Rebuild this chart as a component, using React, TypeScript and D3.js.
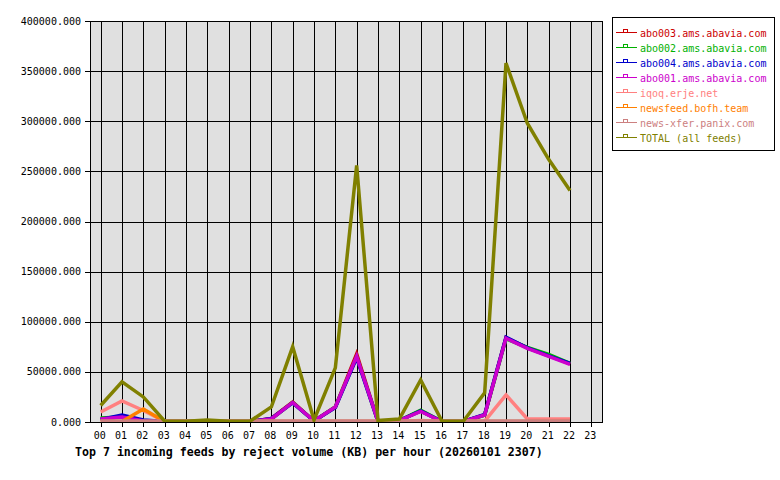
import React from "react";
import * as d3 from "d3";

const hours = ["00","01","02","03","04","05","06","07","08","09","10","11","12","13","14","15","16","17","18","19","20","21","22","23"];
const yTicks = [0, 50000, 100000, 150000, 200000, 250000, 300000, 350000, 400000];

const abo003 = [3000, 5500, 1500, 500, 500, 800, 500, 500, 3500, 20000, 1000, 15000, 68000, 500, 1500, 11000, 500, 500, 7000, 84000, 74000, 66500, 58000];
const abo002 = [4000, 5000, 1200, 500, 500, 800, 500, 500, 3000, 19500, 1000, 15000, 65000, 500, 1500, 11800, 500, 500, 7000, 83000, 74500, 67500, 58500];
const abo004 = [2500, 7000, 2000, 500, 500, 800, 500, 500, 3500, 19000, 1000, 14500, 64000, 500, 1500, 11000, 500, 500, 7500, 84500, 74000, 66000, 58500];
const abo001 = [3000, 5000, 1000, 500, 500, 800, 500, 500, 3000, 19500, 1000, 15000, 65500, 500, 1500, 10500, 500, 500, 7000, 83500, 73500, 65500, 57500];
const iqoq = [10000, 21000, 11500, 500, 500, 500, 500, 500, 500, 500, 500, 500, 500, 500, 500, 1500, 500, 500, 800, 27000, 3000, 3000, 3000];
const newsfeed = [500, 500, 13000, 500, 500, 500, 500, 500, 500, 500, 500, 500, 500, 500, 500, 500, 500, 500, 500, 500, 500, 500, 500];
const newsxfer = [1000, 1000, 1000, 1000, 1000, 1000, 1000, 1000, 1000, 1000, 1000, 1000, 1000, 1000, 1000, 1000, 1000, 1000, 1000, 1000, 1000, 1000, 1000];
const total = [16500, 40000, 25000, 800, 800, 2000, 800, 800, 15000, 75000, 2000, 54000, 256000, 1500, 3000, 42000, 800, 800, 29000, 358000, 298000, 262000, 231000];

const seriesNames = ["abo003.ams.abavia.com", "abo002.ams.abavia.com", "abo004.ams.abavia.com", "abo001.ams.abavia.com", "iqoq.erje.net", "newsfeed.bofh.team", "news-xfer.panix.com", "TOTAL (all feeds)"];
const seriesColors = ["#cc0000", "#00b000", "#0000cc", "#cc00cc", "#ff8080", "#ff8000", "#cc8080", "#808000"];
const seriesValues = [abo003, abo002, abo004, abo001, iqoq, newsfeed, newsxfer, total];

const title = "Top 7 incoming feeds by reject volume (KB) per hour (20260101 2307)";

export default function App() {
  const W = 780, H = 480;
  const left = 90, right = 602, top = 21, bottom = 422;
  const x = d3.scaleLinear().domain([-0.5, 23.5]).range([left, right]);
  const y = d3.scaleLinear().domain([0, 400000]).range([bottom, top]);
  const line = d3.line<number>().x((_, i) => x(i)).y((d) => y(d));
  const font = "'DejaVu Sans Mono', monospace";

  return (
    <svg width={W} height={H} style={{ position: "absolute", left: 0, top: 0, background: "#fff" }}>
      <defs>
        <clipPath id="plotclip">
          <rect x={left} y={top} width={right - left} height={bottom - top} />
        </clipPath>
      </defs>
      <rect x={0} y={0} width={W} height={H} fill="#fff" />
      <rect x={left} y={top} width={right - left} height={bottom - top} fill="#e0e0e0" />
      {hours.map((h, i) => (
        <line key={"vg" + h} x1={Math.round(x(i)) + 0.5} x2={Math.round(x(i)) + 0.5} y1={top} y2={bottom + 5} stroke="#000" strokeWidth={1} />
      ))}
      {yTicks.map((t) => (
        <line key={"hg" + t} x1={left - 5} x2={right} y1={Math.round(y(t)) + 0.5} y2={Math.round(y(t)) + 0.5} stroke="#000" strokeWidth={1} />
      ))}
      <rect x={left + 0.5} y={top + 0.5} width={right - left} height={bottom - top} fill="none" stroke="#000" strokeWidth={1} />
      <g clipPath="url(#plotclip)">
        {seriesValues.map((vals, si) => (
          <path key={"s" + si} d={line(vals) || ""} fill="none" stroke={seriesColors[si]} strokeWidth={3.5} strokeLinejoin="miter" />
        ))}
      </g>
      {yTicks.map((t) => (
        <text key={"yl" + t} x={81} y={y(t) + 3.5} textAnchor="end" fontFamily={font} fontSize={10} fill="#000">
          {d3.format(".3f")(t)}
        </text>
      ))}
      {hours.map((h, i) => (
        <text key={"xl" + h} x={x(i) - 1} y={439} textAnchor="middle" fontFamily={font} fontSize={10} fill="#000">
          {h}
        </text>
      ))}
      <text x={75} y={455.5} fontFamily={font} fontSize={11.6} fontWeight="bold" fill="#000">
        {title}
      </text>
      <rect x={612.5} y={17.5} width={162} height={133} fill="#fff" stroke="#000" strokeWidth={1} />
      {seriesNames.map((n, i) => {
        const ly = 32.5 + i * 15;
        return (
          <g key={"lg" + n}>
            <line x1={616} x2={637} y1={ly} y2={ly} stroke={seriesColors[i]} strokeWidth={1} />
            <rect x={623.5} y={ly - 3} width={4} height={3} fill="none" stroke={seriesColors[i]} strokeWidth={1} />
            <text x={640} y={ly + 4} fontFamily={font} fontSize={10} fill={seriesColors[i]}>
              {n}
            </text>
          </g>
        );
      })}
    </svg>
  );
}
